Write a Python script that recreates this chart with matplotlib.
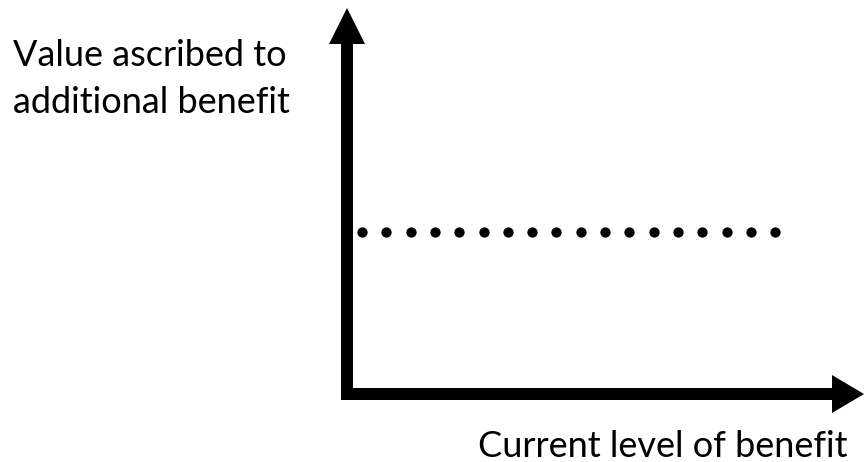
import matplotlib
matplotlib.use('Agg')
import matplotlib.pyplot as plt

# conceptual chart: value of extra benefit stays flat as benefit grows
dot_x = [1, 2, 3, 4, 5, 6, 7, 8, 9, 10, 11, 12, 13, 14, 15, 16, 17, 18]
dot_y = [0.42, 0.42, 0.42, 0.42, 0.42, 0.42, 0.42, 0.42, 0.42,
         0.42, 0.42, 0.42, 0.42, 0.42, 0.42, 0.42, 0.42, 0.42]
y_label = ["Value ascribed to", "additional benefit"]
x_label = "Current level of benefit"

W, H = 865, 462
fig = plt.figure(figsize=(W / 100, H / 100), dpi=100)
ax = fig.add_axes([0, 0, 1, 1])

# pixel -> data helpers (x unit = dot spacing, y unit = axis height)
px = lambda p: (p - 337.7) / 24.3
py = lambda p: (394 - p) / 386.0
ax.set_xlim(px(0), px(W))
ax.set_ylim(py(H), py(0))
ax.axis('off')

lw = 12 * 72 / 100
# axes shafts as one L so the corner is square
ax.plot([px(347), px(347), px(833)], [py(44), py(394), py(394)],
        color='black', lw=lw, solid_joinstyle='miter', solid_capstyle='butt')
# arrow heads
ax.fill([px(329), px(365), px(347)], [py(44), py(44), py(8)], color='black', lw=0)
ax.fill([px(832), px(832), px(864)], [py(375), py(413), py(394)], color='black', lw=0)

ax.plot(dot_x, dot_y, 'o', color='black', ms=7.4, mec='none')

fs = 26
for line, base in zip(y_label, [66, 113]):
    fig.text(13 / W, 1 - base / H, line, family='Lato', fontsize=fs,
             ha='left', va='baseline', color='black')
fig.text(848 / W, 1 - 457 / H, x_label, family='Lato', fontsize=fs,
         ha='right', va='baseline', color='black')

fig.savefig('out.png', dpi=100)
